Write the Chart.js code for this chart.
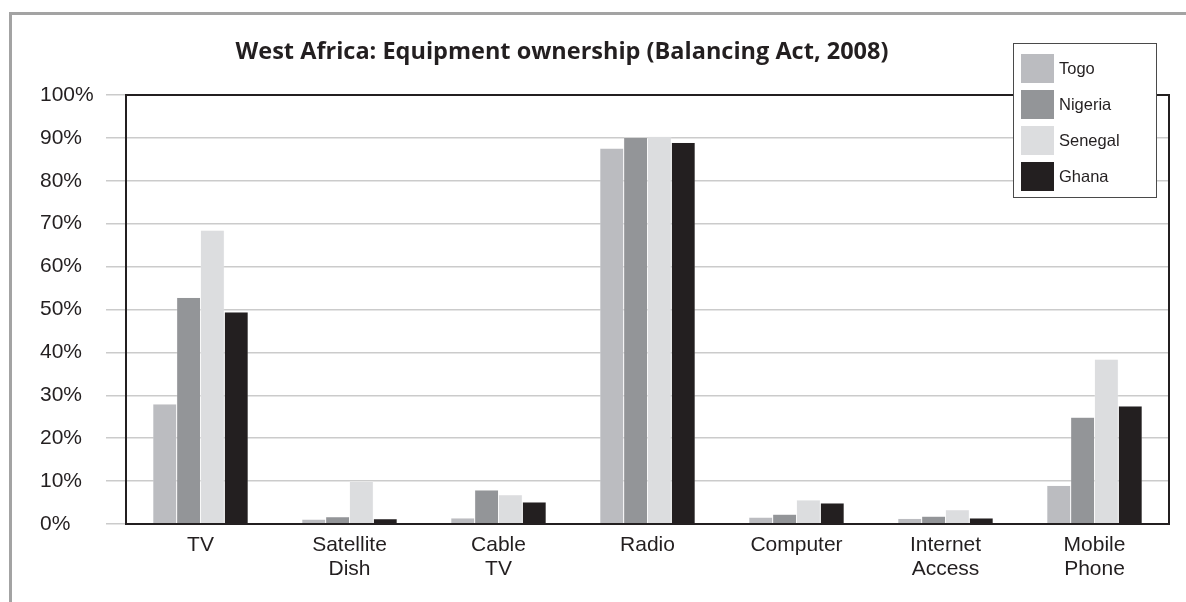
<!DOCTYPE html>
<html>
<head>
<meta charset="utf-8">
<script src="https://cdn.jsdelivr.net/npm/chart.js@4/dist/chart.umd.min.js"></script>
<style>
  html, body { margin: 0; padding: 0; background: #fff; }
  #wrap { position: relative; width: 1186px; height: 602px; }
</style>
</head>
<body>
<div id="wrap"><canvas id="ownershipChart"></canvas></div>
<script>
// West Africa equipment ownership, % of households
const categories = [['TV'], ['Satellite', 'Dish'], ['Cable', 'TV'], ['Radio'], ['Computer'], ['Internet', 'Access'], ['Mobile', 'Phone']];
const countries = ['Togo', 'Nigeria', 'Senegal', 'Ghana'];
const togo    = [28.0, 1.1, 1.4, 87.6, 1.6, 1.3, 9.0];
const nigeria = [52.8, 1.7, 7.9, 90.1, 2.3, 1.8, 24.9];
const senegal = [68.5, 9.9, 6.8, 90.3, 5.6, 3.3, 38.4];
const ghana   = [49.4, 1.2, 5.1, 88.9, 4.9, 1.4, 27.5];
const colors  = ['#bbbcc0', '#939598', '#dcdddf', '#231f20'];

const titleText = 'West Africa: Equipment ownership (Balancing Act, 2008)';
const inkColor = '#231f20';

// grey frame, plot box, title and the boxed legend
const decorations = {
  id: 'decorations',
  beforeDraw(chart) {
    const ctx = chart.ctx;
    ctx.save();
    ctx.strokeStyle = '#a3a3a3';
    ctx.lineWidth = 3;
    ctx.beginPath();
    ctx.moveTo(10.5, 602);
    ctx.lineTo(10.5, 13.5);
    ctx.lineTo(1186, 13.5);
    ctx.stroke();

    ctx.fillStyle = inkColor;
    ctx.font = 'bold 23.5px "Open Sans"';
    ctx.textAlign = 'center';
    ctx.textBaseline = 'alphabetic';
    ctx.fillText(titleText, 562, 59);
    ctx.restore();
  },
  afterDatasetsDraw(chart) {
    const ctx = chart.ctx;
    const a = chart.chartArea;
    ctx.save();
    ctx.strokeStyle = inkColor;
    ctx.lineWidth = 2;
    ctx.strokeRect(a.left, a.top, a.right - a.left, a.bottom - a.top);

    // legend box
    const bx = 1013, by = 43, bw = 143, bh = 154;
    ctx.fillStyle = '#ffffff';
    ctx.fillRect(bx, by, bw, bh);
    ctx.strokeStyle = '#4a4a4a';
    ctx.lineWidth = 1;
    ctx.strokeRect(bx + 0.5, by + 0.5, bw, bh);
    ctx.font = '16.5px "Liberation Sans"';
    ctx.textAlign = 'left';
    ctx.textBaseline = 'middle';
    chart.data.datasets.forEach((ds, i) => {
      const y = by + 11 + i * 36;
      ctx.fillStyle = ds.backgroundColor;
      ctx.fillRect(bx + 8, y, 33, 29);
      ctx.fillStyle = inkColor;
      ctx.fillText(ds.label, bx + 46, y + 15);
    });
    ctx.restore();
  }
};

const ctx = document.getElementById('ownershipChart').getContext('2d');
new Chart(ctx, {
  type: 'bar',
  data: {
    labels: categories,
    datasets: [togo, nigeria, senegal, ghana].map((vals, i) => ({
      label: countries[i],
      data: vals,
      backgroundColor: colors[i],
      borderColor: '#f4f4f4',
      borderWidth: 0.5,
      barPercentage: 1.0,
      categoryPercentage: 0.64
    }))
  },
  options: {
    responsive: true,
    maintainAspectRatio: false,
    animation: false,
    layout: { padding: { left: 40, top: 95, right: 17, bottom: 0 } },
    plugins: {
      legend: { display: false },
      title: { display: false },
      tooltip: { enabled: false }
    },
    scales: {
      x: {
        grid: { display: false, drawTicks: false },
        border: { color: inkColor, width: 2 },
        ticks: {
          color: inkColor,
          padding: 9,
          maxRotation: 0,
          font: { family: '"Liberation Sans"', size: 21, lineHeight: 1.14 }
        },
        afterFit: function(scale) { scale.height = 78; }
      },
      y: {
        min: 0,
        max: 100,
        ticks: {
          stepSize: 10,
          color: inkColor,
          crossAlign: 'far',
          padding: 13,
          font: { family: '"Liberation Sans"', size: 21 },
          callback: function(value) { return value + '%'; }
        },
        grid: {
          color: '#cbcbcb',
          lineWidth: 1.5,
          tickLength: 20,
          tickColor: '#cbcbcb'
        },
        border: { color: inkColor, width: 2 },
        afterFit: function(scale) { scale.width = 86; }
      }
    }
  },
  plugins: [decorations]
});
</script>
</body>
</html>
